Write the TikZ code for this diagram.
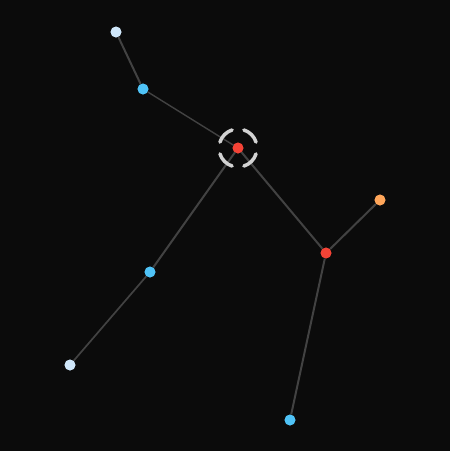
\documentclass[tikz,border=0pt]{standalone}
\usepackage{tikz}
\definecolor{bg}{HTML}{0B0B0B}
\definecolor{edgegray}{HTML}{424242}
\definecolor{ringgray}{HTML}{D2D2D2}
\definecolor{palenode}{HTML}{CFE7FA}
\definecolor{bluenode}{HTML}{4FC3F7}
\definecolor{rednode}{HTML}{F44336}
\definecolor{orangenode}{HTML}{FFA65A}
\tikzset{
  dot/.style={circle, inner sep=0pt, minimum size=11pt},
  link/.style={color=edgegray, line width=2pt}
}

\begin{document}
\begin{tikzpicture}[x=1pt, y=-1pt]
  \fill[bg] (0,0) rectangle (450,451);
  \useasboundingbox (0,0) rectangle (450,451);

  \node[dot, fill=palenode] (top) at (116, 32) {};
  \node[dot, fill=bluenode] (upper) at (143, 89) {};
  \node[dot, fill=rednode] (hub) at (238, 148) {};
  \node[dot, fill=orangenode] (tip) at (380, 200) {};
  \node[dot, fill=rednode] (fork) at (326, 253) {};
  \node[dot, fill=bluenode] (mid) at (150, 272) {};
  \node[dot, fill=palenode] (low) at (70, 365) {};
  \node[dot, fill=bluenode] (foot) at (290, 420) {};

  \draw[link] (top) -- (upper);
  \draw[link, line width=1.4pt] (upper) -- (hub.center);
  \draw[link] (hub.center) -- (mid);
  \draw[link, line width=1.7pt] (mid) -- (low);
  \draw[link] (hub.center) -- (fork);
  \draw[link] (fork) -- (tip);
  \draw[link] (fork) -- (foot);

  % dashed ring round the hub
  \foreach \a in {0,90,180,270}
  {
  \draw[color=ringgray, line width=3.5pt, line cap=round]
    (hub.center) ++(\a+18:19) arc[start angle=\a+18, end angle=\a+72, radius=19];
  }

  % redraw dots over the links
  \foreach \n/\c in {top/palenode, upper/bluenode, hub/rednode, tip/orangenode, fork/rednode, mid/bluenode, low/palenode, foot/bluenode}
  {
  \fill[\c] (\n.center) circle (5.3);
  }
\end{tikzpicture}
\end{document}
